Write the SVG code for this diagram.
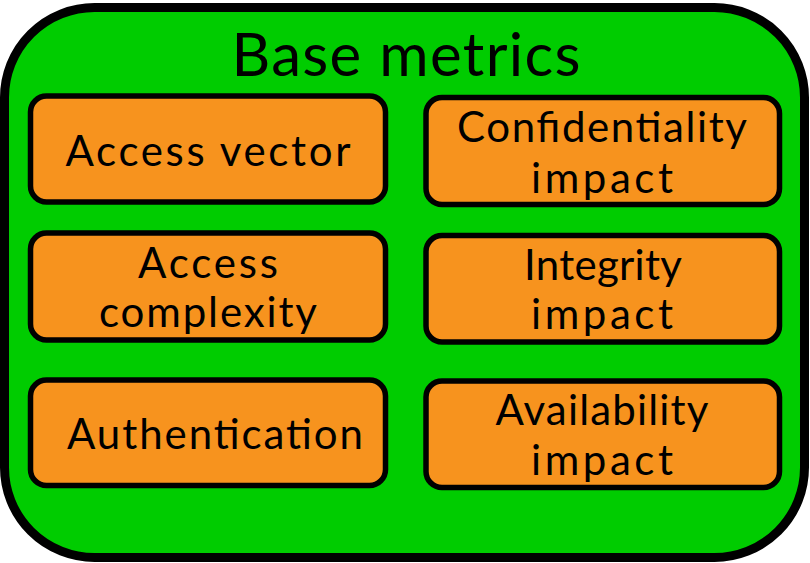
<svg xmlns="http://www.w3.org/2000/svg" width="810" height="563" viewBox="0 0 810 563">
<style>
.outer{fill:#00CC00;stroke:#000;stroke-width:9}
.box{fill:#F7931E;stroke:#000;stroke-width:5.5}
text{font-family:"Century Gothic","Lato","DejaVu Sans",sans-serif;fill:#000;text-anchor:middle}
.t{font-size:42px}
.h{font-size:60px}
</style>
<rect width="810" height="563" fill="#fff"/>
<g id="base-metrics">
<rect class="outer" x="4.5" y="7.5" width="800" height="550" rx="90" ry="90"/>
<text class="h" x="406" y="76" textLength="349" lengthAdjust="spacing">Base metrics</text>
</g>
<g id="access-vector">
<rect class="box" x="30.5" y="96" width="355" height="106" rx="16"/>
<text class="t" x="208" y="166" textLength="285" lengthAdjust="spacing">Access vector</text>
</g>
<g id="confidentiality-impact">
<rect class="box" x="426" y="97.5" width="353.5" height="107" rx="16"/>
<text class="t" x="602" y="142" textLength="290" lengthAdjust="spacing">Confidentiality</text>
<text class="t" x="602" y="193" textLength="142" lengthAdjust="spacing">impact</text>
</g>
<g id="access-complexity">
<rect class="box" x="30.5" y="233" width="355" height="107" rx="16"/>
<text class="t" x="208" y="278" textLength="140" lengthAdjust="spacing">Access</text>
<text class="t" x="208" y="327" textLength="218" lengthAdjust="spacing">complexity</text>
</g>
<g id="integrity-impact">
<rect class="box" x="426" y="235.5" width="353.5" height="106.5" rx="16"/>
<text class="t" x="603" y="280" textLength="158" lengthAdjust="spacing">Integrity</text>
<text class="t" x="602" y="329" textLength="142" lengthAdjust="spacing">impact</text>
</g>
<g id="authentication">
<rect class="box" x="30.5" y="380" width="355" height="105.5" rx="16"/>
<text class="t" x="215" y="449" textLength="296" lengthAdjust="spacing">Authentication</text>
</g>
<g id="availability-impact">
<rect class="box" x="426" y="381" width="353.5" height="106.5" rx="16"/>
<text class="t" x="602" y="425" textLength="213" lengthAdjust="spacing">Availability</text>
<text class="t" x="602" y="475" textLength="142" lengthAdjust="spacing">impact</text>
</g>
<g id="connectors"/>
</svg>
